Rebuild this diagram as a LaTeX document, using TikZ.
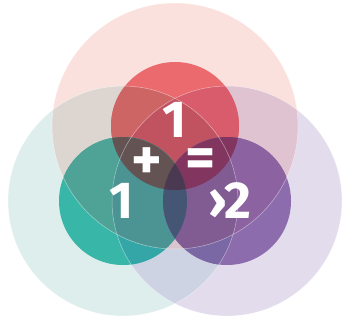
\documentclass[tikz,border=0pt]{standalone}
\usepackage{fontspec}
\setmainfont{Fira Sans}
\definecolor{cP}{RGB}{251,225,222}
\definecolor{cT}{RGB}{222,238,236}
\definecolor{cL}{RGB}{227,220,236}
\definecolor{cPT}{RGB}{221,213,208}
\definecolor{cPL}{RGB}{223,195,208}
\definecolor{cTL}{RGB}{205,211,226}
\definecolor{cPTL}{RGB}{218,196,206}
\definecolor{r0}{RGB}{235,106,110}
\definecolor{rT}{RGB}{206,101,101}
\definecolor{rL}{RGB}{216,92,108}
\definecolor{rTL}{RGB}{193,83,96}
\definecolor{t0}{RGB}{56,182,168}
\definecolor{tP}{RGB}{78,162,150}
\definecolor{tL}{RGB}{53,166,167}
\definecolor{tPL}{RGB}{76,147,147}
\definecolor{p0}{RGB}{140,108,172}
\definecolor{pP}{RGB}{140,98,160}
\definecolor{pT}{RGB}{122,104,165}
\definecolor{pPT}{RGB}{128,92,146}
\definecolor{crt}{RGB}{100,83,83}
\definecolor{crp}{RGB}{130,53,95}
\definecolor{ctp}{RGB}{68,86,116}
\definecolor{crtp}{RGB}{75,56,81}
\def\cirP{(175,126) circle (123pt)}
\def\cirT{(123,201) circle (115pt)}
\def\cirL{(227,201) circle (115pt)}
\def\cirr{(175,126) circle (64pt)}
\def\cirt{(123,201) circle (64pt)}
\def\cirp{(227,201) circle (64pt)}
\tikzset{lbl/.style={text=white,font=\bfseries\fontsize{52}{52}\selectfont,inner sep=0pt},
  sym/.style={text=white,font=\bfseries\fontsize{58}{58}\selectfont,inner sep=0pt},
  rim/.style={draw=white,draw opacity=0.5,line width=0.5pt}}
\begin{document}
\begin{tikzpicture}[x=1pt,y=-1pt]
\useasboundingbox (0,0) rectangle (344,321);
% large circles
\fill[cP] \cirP; \fill[cT] \cirT; \fill[cL] \cirL;
\begin{scope}\clip \cirP; \fill[cPT] \cirT; \end{scope}
\begin{scope}\clip \cirP; \fill[cPL] \cirL; \end{scope}
\begin{scope}\clip \cirT; \fill[cTL] \cirL; \end{scope}
\begin{scope}\clip \cirP; \clip \cirT; \fill[cPTL] \cirL; \end{scope}
% small red
\fill[r0] \cirr;
\begin{scope}\clip \cirr; \fill[rT] \cirT; \end{scope}
\begin{scope}\clip \cirr; \fill[rL] \cirL; \end{scope}
\begin{scope}\clip \cirr; \clip \cirT; \fill[rTL] \cirL; \end{scope}
% small teal
\fill[t0] \cirt;
\begin{scope}\clip \cirt; \fill[tP] \cirP; \end{scope}
\begin{scope}\clip \cirt; \fill[tL] \cirL; \end{scope}
\begin{scope}\clip \cirt; \clip \cirP; \fill[tPL] \cirL; \end{scope}
% small purple
\fill[p0] \cirp;
\begin{scope}\clip \cirp; \fill[pP] \cirP; \end{scope}
\begin{scope}\clip \cirp; \fill[pT] \cirT; \end{scope}
\begin{scope}\clip \cirp; \clip \cirP; \fill[pPT] \cirT; \end{scope}
% small intersections
\begin{scope}\clip \cirr; \fill[crt] \cirt; \end{scope}
\begin{scope}\clip \cirr; \fill[crp] \cirp; \end{scope}
\begin{scope}\clip \cirt; \fill[ctp] \cirp; \end{scope}
\begin{scope}\clip \cirr; \clip \cirt; \fill[crtp] \cirp; \end{scope}
% rims
\draw[rim] \cirP; \draw[rim] \cirT; \draw[rim] \cirL;
% labels
\node[lbl] (top) at (175,120) {1};
\node[lbl] (left) at (122,201) {1};
\node[lbl] (right) at (230,201) {›2};
\node[sym] (plus) at (147,164) {+};
\node[sym] (eq) at (201,163) {=};
\end{tikzpicture}
\end{document}
